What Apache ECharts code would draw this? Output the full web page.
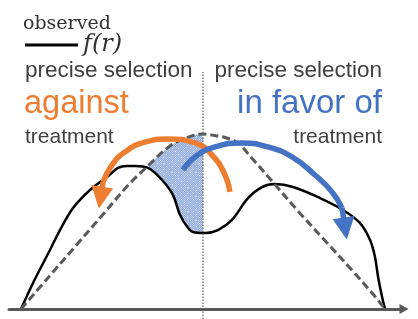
<!DOCTYPE html>
<html><head><meta charset="utf-8">
<script src="https://cdn.jsdelivr.net/npm/echarts@6/dist/echarts.min.js"></script>
<style>html,body{margin:0;padding:0;background:#fff}#c{width:418px;height:319px}</style>
</head><body><div id="c"></div>
<script>
// dashed reference curve (r, f)
const dashedR = [-1.00, -0.85, -0.70, -0.55, -0.40, -0.30, -0.19, -0.10, 0.00, 0.07, 0.12, 0.19, 0.27, 0.38, 0.53, 0.68, 0.82, 0.93, 1.00];
const dashedF = [0.00, 0.18, 0.36, 0.54, 0.72, 0.82, 0.925, 0.975, 1.00, 0.99, 0.98, 0.95, 0.86, 0.73, 0.55, 0.38, 0.22, 0.09, 0.00];
// observed f(r)
const blackR = [-1.00, -0.934, -0.841, -0.786, -0.714, -0.621, -0.527, -0.467, -0.418, -0.374, -0.302, -0.225, -0.165, -0.126, -0.082, -0.055, 0.011, 0.082, 0.159, 0.247, 0.324, 0.396, 0.495, 0.643, 0.769, 0.863, 0.918, 0.945, 0.962, 0.984, 1.00];
const blackF = [0.00, 0.149, 0.337, 0.451, 0.577, 0.680, 0.754, 0.806, 0.817, 0.817, 0.806, 0.737, 0.651, 0.537, 0.463, 0.440, 0.434, 0.451, 0.509, 0.634, 0.697, 0.714, 0.697, 0.634, 0.566, 0.491, 0.394, 0.297, 0.183, 0.069, 0.00];
// cutoff line
const cutR = [0, 0];
const cutF = [-0.057, 1.354];
// arrows
const orangeR = [0.148, 0.121, 0.049, -0.044, -0.192, -0.319, -0.429, -0.500, -0.549];
const orangeF = [0.669, 0.766, 0.880, 0.949, 0.971, 0.954, 0.897, 0.823, 0.726];
const orangeHead = [-0.563, 0.637];
const blueR = [-0.110, -0.044, 0.066, 0.214, 0.357, 0.489, 0.615, 0.709, 0.764];
const blueF = [0.794, 0.869, 0.926, 0.949, 0.926, 0.869, 0.766, 0.669, 0.577];
const blueHead = [0.781, 0.460];
// texts
const legendName = 'f(r)';
const legendTitle = 'observed';
const leftLabels = ['precise selection', 'against', 'treatment'];
const rightLabels = ['precise selection', 'in favor of', 'treatment'];

const zip = (a, b) => a.map((v, i) => [v, b[i]]);
const X_MIN = -1.066, X_MAX = 1.1044, Y_MIN = -0.0571, Y_MAX = 1.7657;
const GRAY = '#404040', ORANGE = '#ED7D31', BLUE = '#4472C4';

const pc = document.createElement('canvas'); pc.width = 6; pc.height = 6;
const g = pc.getContext('2d');
g.fillStyle = '#93ADDE'; g.fillRect(0, 0, 6, 6);
g.fillStyle = '#B7C9EB';
for (let y = 0; y < 6; y++) for (let x = 0; x < 6; x++) if ((x + y) % 2 === 0) g.fillRect(x, y, 1, 1);
g.fillStyle = '#ffffff'; g.fillRect(1, 1, 1, 1); g.fillRect(4, 4, 1, 1);

const SM = 0.35;
const HEAD = 22;
const chart = echarts.init(document.getElementById('c'), null, {renderer: 'canvas'});
const sansFont = (s) => s + 'px "Liberation Sans", Arial, sans-serif';
chart.setOption({
  animation: false,
  backgroundColor: '#fff',
  grid: [
    {left: 9, right: 14, top: 0, bottom: 0},
    {left: 9, width: 194, top: 0, bottom: 0}
  ],
  xAxis: [
    {type: 'value', min: X_MIN, max: X_MAX, z: 10,
     axisLine: {onZero: true, lineStyle: {color: '#595959', width: 3}, symbol: ['none', 'triangle'], symbolSize: [10, 9]},
     axisTick: {show: false}, axisLabel: {show: false}, splitLine: {show: false}},
    {type: 'value', gridIndex: 1, min: X_MIN, max: 0, show: false}
  ],
  yAxis: [
    {type: 'value', min: Y_MIN, max: Y_MAX, show: false},
    {type: 'value', gridIndex: 1, min: Y_MIN, max: Y_MAX, show: false}
  ],
  legend: {
    left: 25, top: 33, padding: 0, itemWidth: 53, itemHeight: 3, icon: 'rect',
    selectedMode: false, data: [legendName],
    itemStyle: {color: '#000', borderWidth: 0},
    textStyle: {fontFamily: 'DejaVu Serif', fontStyle: 'italic', fontSize: 24, color: '#333'}
  },
  graphic: [
    {type: 'text', x: 23, y: 24, style: {text: legendTitle, font: '19px "DejaVu Serif"', fill: '#333', align: 'left', verticalAlign: 'middle'}},
    {type: 'text', x: 25, y: 71, style: {text: leftLabels[0], font: sansFont(22.5), fill: GRAY, align: 'left', verticalAlign: 'middle'}},
    {type: 'text', x: 24, y: 104, style: {text: leftLabels[1], font: sansFont(32.5), fill: ORANGE, align: 'left', verticalAlign: 'middle'}},
    {type: 'text', x: 25, y: 137, style: {text: leftLabels[2], font: sansFont(21), fill: GRAY, align: 'left', verticalAlign: 'middle'}},
    {type: 'text', x: 382, y: 71, style: {text: rightLabels[0], font: sansFont(22.5), fill: GRAY, align: 'right', verticalAlign: 'middle'}},
    {type: 'text', x: 382, y: 104, style: {text: rightLabels[1], font: sansFont(33), fill: BLUE, align: 'right', verticalAlign: 'middle'}},
    {type: 'text', x: 382, y: 137, style: {text: rightLabels[2], font: sansFont(21), fill: GRAY, align: 'right', verticalAlign: 'middle'}}
  ],
  series: [
    {type: 'line', name: 'shade', xAxisIndex: 1, yAxisIndex: 1, data: zip(dashedR, dashedF), smooth: SM,
     symbol: 'none', lineStyle: {width: 0, opacity: 0}, areaStyle: {color: {image: pc, repeat: 'repeat'}, opacity: 1}, z: 1, silent: true},
    {type: 'line', name: legendName, data: zip(blackR, blackF), smooth: SM, symbol: 'none',
     lineStyle: {color: '#000', width: 2.5}, itemStyle: {color: '#000'}, areaStyle: {color: '#fff', opacity: 1}, z: 2, silent: true},
    {type: 'line', name: 'reference', data: zip(dashedR, dashedF), smooth: SM, symbol: 'none',
     lineStyle: {color: '#595959', width: 3, type: [8, 4]}, z: 3, silent: true},
    {type: 'line', name: 'cutoff', data: zip(cutR, cutF), symbol: 'none',
     lineStyle: {color: '#7f7f7f', width: 1.5, type: [1.5, 1.5]}, z: 4, silent: true},
    {type: 'line', name: 'against', data: zip(orangeR, orangeF), smooth: true, symbol: 'none',
     lineStyle: {color: ORANGE, width: 5.5}, z: 5, silent: true,
     markLine: {silent: true, symbol: ['none', 'triangle'], symbolSize: HEAD, label: {show: false},
       lineStyle: {color: ORANGE, width: 5.5, type: 'solid'}, emphasis: {disabled: true},
       data: [[{coord: [orangeR[orangeR.length - 1], orangeF[orangeF.length - 1]]}, {coord: orangeHead}]]}},
    {type: 'line', name: 'favor', data: zip(blueR, blueF), smooth: true, symbol: 'none',
     lineStyle: {color: BLUE, width: 5.5}, z: 5, silent: true,
     markLine: {silent: true, symbol: ['none', 'triangle'], symbolSize: HEAD, label: {show: false},
       lineStyle: {color: BLUE, width: 5.5, type: 'solid'}, emphasis: {disabled: true},
       data: [[{coord: [blueR[blueR.length - 1], blueF[blueF.length - 1]]}, {coord: blueHead}]]}}
  ]
});
</script>
</body></html>
